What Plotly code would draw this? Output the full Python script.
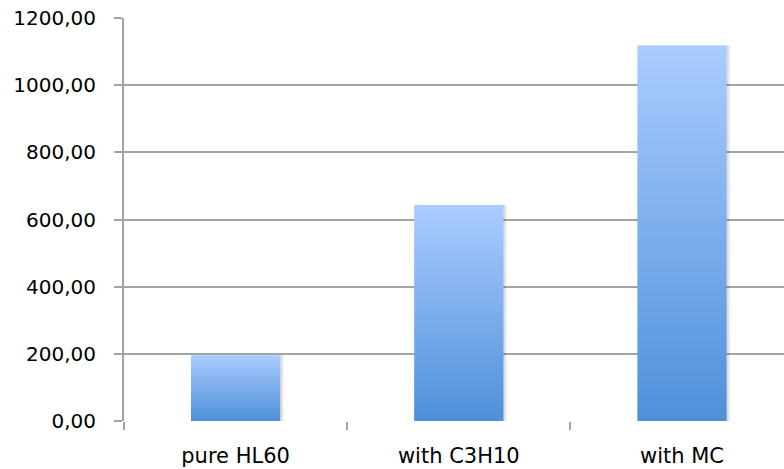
import plotly.graph_objects as go

# Mean values per sample
categories = ["pure HL60", "with C3H10", "with MC"]
values = [196, 643, 1118]

y_ticks = [0, 200, 400, 600, 800, 1000, 1200]

BAR_HALF = 0.2
TOP_COLOR = "#aaccff"
BOTTOM_COLOR = "#4f90da"
GRID = "#a3a3a3"

fig = go.Figure()

# soft drop shadow behind each bar
for i, v in enumerate(values):
    for off, alpha in [(0.016, 0.06), (0.009, 0.08)]:
        xs = [i - BAR_HALF + off, i + BAR_HALF + off, i + BAR_HALF + off, i - BAR_HALF + off, i - BAR_HALF + off]
        ys = [0, 0, v, v, 0]
        fig.add_trace(go.Scatter(
            x=xs, y=ys, mode="lines", line=dict(width=0),
            fill="toself", fillcolor=f"rgba(0,0,0,{alpha})",
            hoverinfo="skip", showlegend=False,
        ))

# bars with a vertical gradient, light at the top, darker at the base
for i, (name, v) in enumerate(zip(categories, values)):
    xs = [i - BAR_HALF, i + BAR_HALF, i + BAR_HALF, i - BAR_HALF, i - BAR_HALF]
    ys = [0, 0, v, v, 0]
    fig.add_trace(go.Scatter(
        x=xs, y=ys, mode="lines", line=dict(width=0),
        fill="toself",
        fillgradient=dict(
            type="vertical",
            colorscale=[[0, BOTTOM_COLOR], [1, TOP_COLOR]],
            start=0, stop=v,
        ),
        name=name, showlegend=False,
    ))

fig.update_layout(
    width=784, height=469,
    margin=dict(l=124, r=0, t=18, b=48),
    paper_bgcolor="white", plot_bgcolor="white",
    separators=",.",
    font=dict(family="DejaVu Sans", size=20, color="#000000"),
    xaxis=dict(
        range=[-0.5, 2.457],
        tickmode="array",
        tickvals=list(range(len(categories))),
        ticktext=categories,
        ticks="",
        showgrid=False, zeroline=False,
        showline=False,
        tickfont=dict(size=21),
        ticklabelstandoff=20,
        minor=dict(tick0=-0.5, dtick=1, ticks="outside", ticklen=8,
                   tickwidth=2, tickcolor=GRID, showgrid=False),
    ),
    yaxis=dict(
        range=[0, 1200],
        tickmode="array",
        tickvals=y_ticks,
        tickformat=".2f",
        showgrid=True, gridcolor=GRID, gridwidth=2,
        zeroline=False,
        showline=True, linecolor=GRID, linewidth=2,
        ticks="outside", ticklen=8, tickcolor=GRID, tickwidth=2,
        tickfont=dict(size=20),
        ticklabelstandoff=14,
    ),
)

fig.write_html("out.html")
